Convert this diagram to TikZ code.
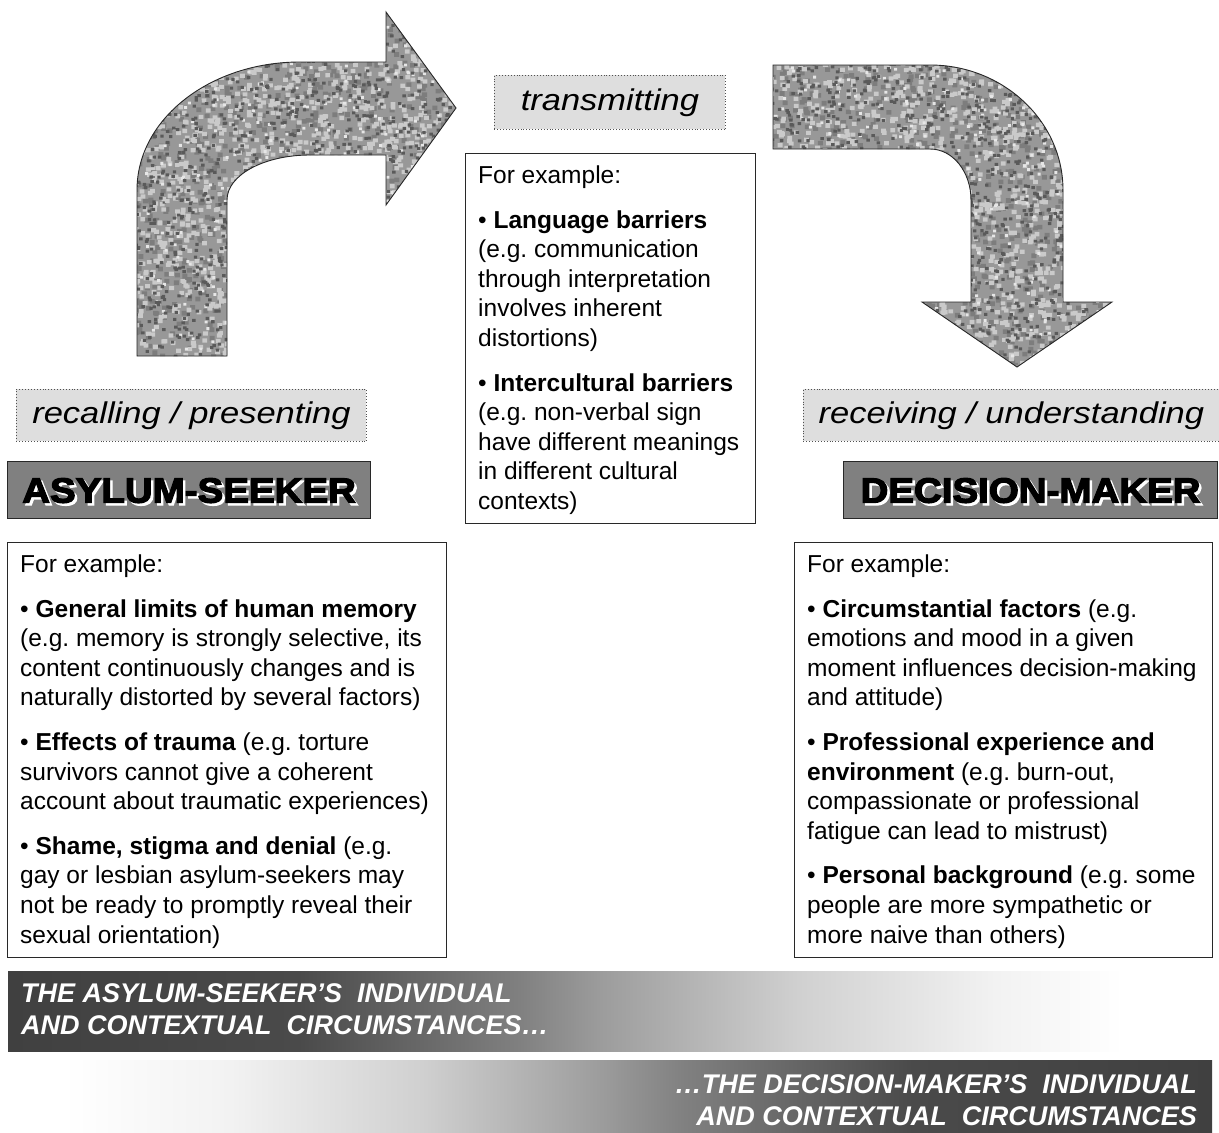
\documentclass[tikz,border=0pt]{standalone}
\usepackage{fontspec}
\setmainfont{Liberation Sans}
\newfontfamily\lblfont[FakeStretch=1.15]{Liberation Sans}
\newfontfamily\heavyfont[FakeStretch=1.1,FakeBold=3.5]{Liberation Sans}
\newfontfamily\bandfont{Liberation Sans}
\definecolor{boxline}{RGB}{40,40,40}
\definecolor{lblfill}{RGB}{222,222,222}
\definecolor{lblline}{RGB}{80,80,80}
\definecolor{titlefill}{RGB}{128,128,128}
\definecolor{arrowbase}{RGB}{152,152,152}
\definecolor{speckA}{RGB}{202,202,202}
\definecolor{speckB}{RGB}{90,90,90}
\definecolor{speckC}{RGB}{125,125,125}
\definecolor{speckD}{RGB}{230,230,230}
\definecolor{gA}{RGB}{64,64,64}
\definecolor{gB}{RGB}{74,74,74}
\definecolor{gC}{RGB}{128,128,128}
\definecolor{gD}{RGB}{156,156,156}
\definecolor{gE}{RGB}{208,208,208}
\definecolor{gF}{RGB}{242,242,242}
\definecolor{gW}{RGB}{255,255,255}
% path bounding box maps to 25bp..75bp of the shading
\pgfdeclarehorizontalshading{bandL}{100bp}{color(0bp)=(gA); color(25bp)=(gA); color(37.5bp)=(gB); color(47bp)=(gC); color(50.5bp)=(gD); color(59bp)=(gE); color(67.5bp)=(gF); color(73bp)=(gW); color(100bp)=(gW)}
\pgfdeclarehorizontalshading{bandR}{100bp}{color(0bp)=(gW); color(27bp)=(gW); color(34bp)=(gF); color(42bp)=(gE); color(49.5bp)=(gD); color(53bp)=(gC); color(62.5bp)=(gB); color(75bp)=(gA); color(100bp)=(gA)}
% granite speckles in a rectangular region: x0 y0 w h
\newcommand\speckregion[4]{%
  \pgfmathtruncatemacro\nA{#3*0.014*#4}%
  \pgfmathtruncatemacro\nC{#3*0.009*#4}%
  \pgfmathtruncatemacro\nB{#3*0.011*#4}%
  \pgfmathtruncatemacro\nD{#3*0.003*#4}%
  \fill[speckC] \foreach \i in {1,...,\nC}{ ({#1+#3*rnd},{#2+#4*rnd}) rectangle ++(5,4.6) };
  \fill[speckA] \foreach \i in {1,...,\nA}{ ({#1+#3*rnd},{#2+#4*rnd}) rectangle ++(4.8,4.2) };
  \fill[speckD] \foreach \i in {1,...,\nD}{ ({#1+#3*rnd},{#2+#4*rnd}) rectangle ++(3,2.8) };
  \fill[speckB] \foreach \i in {1,...,\nB}{ ({#1+#3*rnd},{#2+#4*rnd}) rectangle ++(3.4,3) };
}
\begin{document}
\begin{tikzpicture}[x=1pt,y=-1pt,
  exbox/.style={draw=boxline, line width=1.2pt, fill=white, inner sep=0pt, anchor=north west},
  bodytext/.style={anchor=north west, align=left, inner sep=0pt, font=\fontsize{24.5}{29.6}\selectfont\frenchspacing},
  lblbox/.style={draw=lblline, dotted, line width=0.9pt, fill=lblfill, inner sep=0pt, anchor=north west,
     font=\lblfont\itshape\fontsize{30}{36}\selectfont, text height=21pt, text depth=4pt},
  titlebox/.style={draw=boxline, line width=1.2pt, fill=titlefill, inner sep=0pt, anchor=north west, minimum height=57pt},
  titletext/.style={inner sep=0pt, font=\heavyfont\bfseries\fontsize{35}{40}\selectfont, text height=25pt, text depth=0pt},
  bandtext/.style={inner sep=0pt, text=white, font=\bandfont\bfseries\itshape\fontsize{27}{32}\selectfont},
  arrowline/.style={draw=boxline, line width=0.9pt}
]
\useasboundingbox (0,0) rectangle (1219,1133);

% ---------- curved arrows ----------
\def\arrowL{(137,356) -- (137,190) .. controls (137,119) and (210,62) .. (300,62) -- (386,62) -- (386,12) -- (456,108) -- (386,205) -- (386,155) -- (310,155) .. controls (264,155) and (227,175) .. (227,200) -- (227,356) -- cycle}
\def\arrowR{(773,65) -- (930,65) .. controls (1003,65) and (1063,121) .. (1063,190) -- (1063,302) -- (1112,302) -- (1017,367) -- (922,302) -- (971,302) -- (971,200) .. controls (971,172) and (953,149) .. (930,149) -- (773,149) -- cycle}
\pgfmathsetseed{11}
\begin{scope}
  \clip \arrowL;
  \fill[arrowbase] (130,5) rectangle (460,360);
  \speckregion{133}{196}{96}{162}
  \speckregion{133}{58}{179}{142}
  \speckregion{308}{58}{80}{99}
  \speckregion{384}{8}{74}{199}
\end{scope}
\draw[arrowline] \arrowL;
\begin{scope}
  \clip \arrowR;
  \fill[arrowbase] (765,60) rectangle (1120,372);
  \speckregion{769}{61}{163}{90}
  \speckregion{928}{61}{137}{141}
  \speckregion{967}{200}{98}{104}
  \speckregion{918}{300}{196}{69}
\end{scope}
\draw[arrowline] \arrowR;

% ---------- process labels ----------
\node[lblbox, minimum width=350pt, minimum height=52pt] (recall) at (16,389) {recalling / presenting};
\node[lblbox, minimum width=231pt, minimum height=54pt] (transmit) at (494,75) {transmitting};
\node[lblbox, minimum width=416pt, minimum height=52pt] (receive) at (803,389) {receiving / understanding};

% ---------- actor titles ----------
\node[titlebox, minimum width=363pt] (asylumbox) at (7,461) {};
\node[titletext, text=white] (asylumshadow) at ([xshift=2.5pt,yshift=-2.5pt]asylumbox.center) {ASYLUM-SEEKER};
\node[titletext, text=black] (asylum) at (asylumbox.center) {ASYLUM-SEEKER};
\node[titlebox, minimum width=374pt] (deciderbox) at (843,461) {};
\node[titletext, text=white] (decidershadow) at ([xshift=2.5pt,yshift=-2.5pt]deciderbox.center) {DECISION-MAKER};
\node[titletext, text=black] (decider) at (deciderbox.center) {DECISION-MAKER};

% ---------- example boxes ----------
\node[exbox, minimum width=290pt, minimum height=370pt] (midbox) at (465,153) {};
\node[bodytext] (midtext) at (478,165.5) {For example:\\[15pt]
\textbullet\ \textbf{Language barriers}\\
(e.g. communication\\
through interpretation\\
involves inherent\\
distortions)\\[15pt]
\textbullet\ \textbf{Intercultural barriers}\\
(e.g. non-verbal sign\\
have different meanings\\
in different cultural\\
contexts)};

\node[exbox, minimum width=439pt, minimum height=415pt] (leftbox) at (7,542) {};
\node[bodytext] (lefttext) at (20,554.5) {For example:\\[15pt]
\textbullet\ \textbf{General limits of human memory}\\
(e.g. memory is strongly selective, its\\
content continuously changes and is\\
naturally distorted by several factors)\\[15pt]
\textbullet\ \textbf{Effects of trauma} (e.g. torture\\
survivors cannot give a coherent\\
account about traumatic experiences)\\[15pt]
\textbullet\ \textbf{Shame, stigma and denial} (e.g.\\
gay or lesbian asylum-seekers may\\
not be ready to promptly reveal their\\
sexual orientation)};

\node[exbox, minimum width=418pt, minimum height=415pt] (rightbox) at (794,542) {};
\node[bodytext] (righttext) at (807,554.5) {For example:\\[15pt]
\textbullet\ \textbf{Circumstantial factors} (e.g.\\
emotions and mood in a given\\
moment influences decision-making\\
and attitude)\\[15pt]
\textbullet\ \textbf{Professional experience and}\\
\textbf{environment} (e.g. burn-out,\\
compassionate or professional\\
fatigue can lead to mistrust)\\[15pt]
\textbullet\ \textbf{Personal background} (e.g. some\\
people are more sympathetic or\\
more naive than others)};

% ---------- bottom bands ----------
\shade[shading=bandL] (8,971) rectangle (1170,1051);
\shade[shading=bandR] (15,1060) rectangle (1212,1133);
\node[bandtext, anchor=base west] (bandAa) at (21,1002) {THE ASYLUM-SEEKER’S\ \ INDIVIDUAL};
\node[bandtext, anchor=base west] (bandAb) at (21,1034) {AND CONTEXTUAL\ \ CIRCUMSTANCES…};
\node[bandtext, anchor=base east] (bandBa) at (1197,1093) {…THE DECISION-MAKER’S\ \ INDIVIDUAL};
\node[bandtext, anchor=base east] (bandBb) at (1197,1125) {AND CONTEXTUAL\ \ CIRCUMSTANCES};
\end{tikzpicture}
\end{document}
